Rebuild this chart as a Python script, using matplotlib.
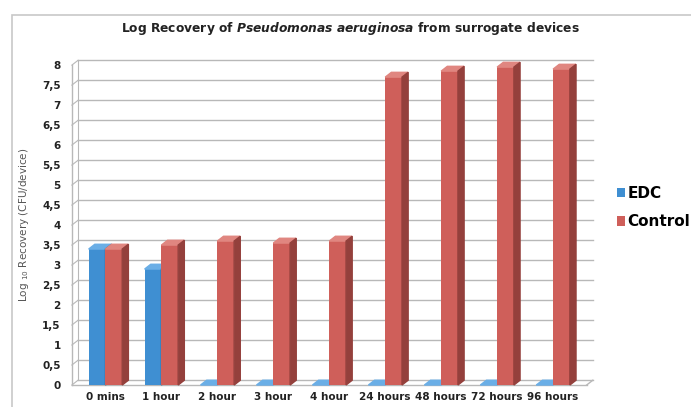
import numpy as np
import matplotlib
matplotlib.use('Agg')
import matplotlib.pyplot as plt
from matplotlib.patches import Polygon, Rectangle

# data
categories = ['0 mins', '1 hour', '2 hour', '3 hour', '4 hour',
              '24 hours', '48 hours', '72 hours', '96 hours']
edc = [3.4, 2.9, 0, 0, 0, 0, 0, 0, 0]
control = [3.4, 3.5, 3.6, 3.55, 3.6, 7.7, 7.85, 7.95, 7.9]

blue = '#3f8fd2'
blue_top = '#6aaee6'
blue_side = '#2a6a9e'
red = '#cf5f5a'
red_top = '#e08680'
red_side = '#94403c'
grid_c = '#b8b8b8'

plt.rcParams['mathtext.fontset'] = 'dejavusans'

fig = plt.figure(figsize=(6.91, 4.07), dpi=100)
ax = fig.add_axes([0.104, 0.054, 0.745, 0.786])

# outer chart border
fig.patches.append(Rectangle((12/691, -0.1), 1.2, (407-15)/407 + 0.1,
                             transform=fig.transFigure, fill=False,
                             edgecolor='#c8c8c8', lw=1.2))

x = np.arange(len(categories))
w = 0.3
dx, dy = 0.11, 0.12   # fake 3d depth

xmin, xmax = -0.6, 8.6
yticks = np.arange(0, 8.01, 0.5)

# back wall grid + left wall diagonals
for yv in yticks:
    ax.plot([xmin + dx, xmax + dx], [yv + dy, yv + dy], color=grid_c, lw=1, clip_on=False, zorder=1)
    ax.plot([xmin, xmin + dx], [yv, yv + dy], color=grid_c, lw=0.8, clip_on=False, zorder=1)
ax.plot([xmin, xmin], [0, 8], color=grid_c, lw=1, clip_on=False, zorder=1)
ax.plot([xmin + dx, xmin + dx], [dy, 8 + dy], color=grid_c, lw=0.8, clip_on=False, zorder=1)
# floor
ax.plot([xmin, xmax], [0, 0], color=grid_c, lw=1, clip_on=False, zorder=1)
ax.plot([xmax, xmax + dx], [0, dy], color=grid_c, lw=1, clip_on=False, zorder=1)

def bars3d(xpos, vals, c, ctop, cside):
    bs = ax.bar(xpos, vals, w, color=c, zorder=3, align='edge')
    for b in bs:
        x0, h = b.get_x(), b.get_height()
        x1 = x0 + b.get_width()
        ax.add_patch(Polygon([(x0, h), (x1, h), (x1 + dx, h + dy), (x0 + dx, h + dy)],
                             closed=True, color=ctop, zorder=3, clip_on=False))
        if h > 0:
            ax.add_patch(Polygon([(x1, 0), (x1 + dx, dy), (x1 + dx, h + dy), (x1, h)],
                                 closed=True, color=cside, zorder=3, clip_on=False))
    return bs

b1 = bars3d(x - w, edc, blue, blue_top, blue_side)
b2 = bars3d(x, control, red, red_top, red_side)

ax.set_xlim(xmin, xmax)
ax.set_ylim(0, 8)
for s in ax.spines.values():
    s.set_visible(False)
ax.tick_params(length=0)
ax.set_yticks(yticks)
ax.set_yticklabels([('%g' % v).replace('.', ',') for v in yticks],
                   fontsize=7.5, fontweight='bold', color='#222222')
ax.tick_params(axis='y', pad=8)
ax.set_xticks(x)
ax.set_xticklabels(categories, fontsize=7.5, fontweight='bold', color='#222222')
ax.tick_params(axis='x', pad=5)
ax.set_ylabel(r'Log $_{10}$ Recovery (CFU/device)', fontsize=7.5, color='#555555', labelpad=8)

fig.text(0.507, 0.93, r'Log Recovery of $\mathbfit{Pseudomonas\ aeruginosa}$ from surrogate devices',
         ha='center', va='center', fontsize=8.8, fontweight='bold', color='#222222')

fig.legend([b1, b2], ['EDC', 'Control'], loc='center left', bbox_to_anchor=(0.873, 0.49),
           frameon=False, prop={'size': 11, 'weight': 'bold'},
           handlelength=0.55, handleheight=0.55, handletextpad=0.15, labelspacing=0.9)

fig.savefig('out.png', dpi=100)
